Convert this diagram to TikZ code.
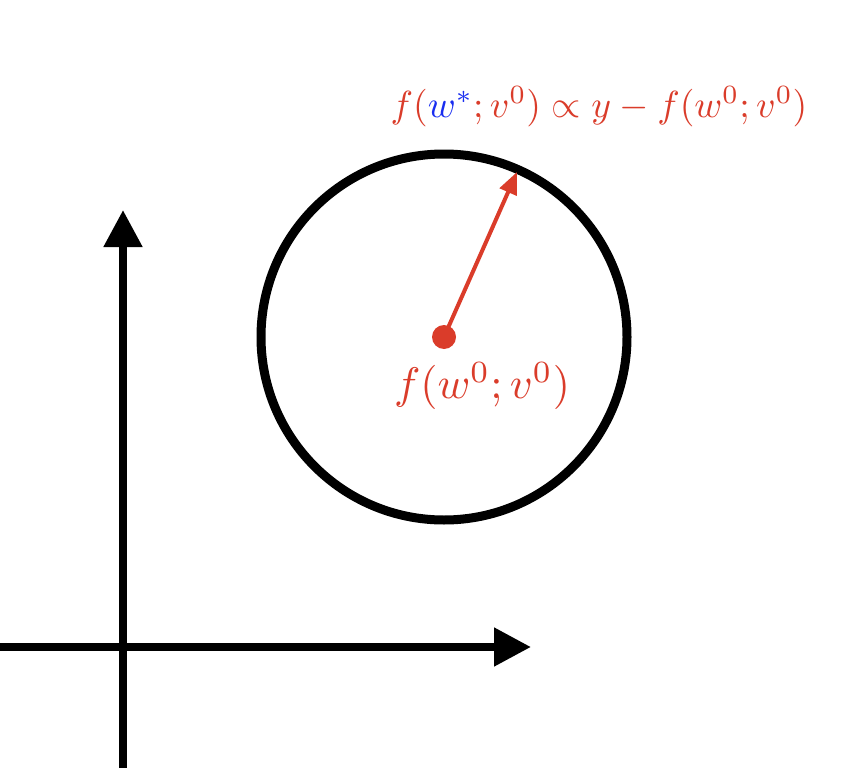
\documentclass[tikz,border=0pt]{standalone}
\usetikzlibrary{arrows.meta}
\definecolor{myred}{RGB}{218,60,42}
\definecolor{myblue}{RGB}{25,45,240}
\begin{document}
\begin{tikzpicture}[x=1pt,y=-1pt,
  axis/.style={line width=8pt,-{Triangle[length=37pt,width=37pt]}},
  lbl/.style={text=myred,inner sep=0pt}]
\useasboundingbox (0,0) rectangle (854,768);
\coordinate (yb) at (123,768);
\coordinate (yt) at (123,210);
\coordinate (xl) at (0,647);
\coordinate (xr) at (531,647);
\draw[axis] (yb) -- (yt);
\draw[axis] (xl) -- (xr);
\node[circle,draw,line width=9pt,minimum size=366pt,inner sep=0pt] (c) at (444,337) {};
\node[circle,fill=myred,minimum size=24pt,inner sep=0pt] (dot) at (444,337) {};
\coordinate (tip) at (517,172);
\draw[myred,line width=4pt,-{Triangle[length=22pt,width=18pt]}] (dot.center) -- (tip);
\node[lbl,scale=4.42] (l0) at (482,386) {$f(w^0;v^0)$};
\node[lbl,scale=3.77] (l1) at (599,107) {$f({\color{myblue}w^*};v^0)\propto y-f(w^0;v^0)$};
\end{tikzpicture}
\end{document}
